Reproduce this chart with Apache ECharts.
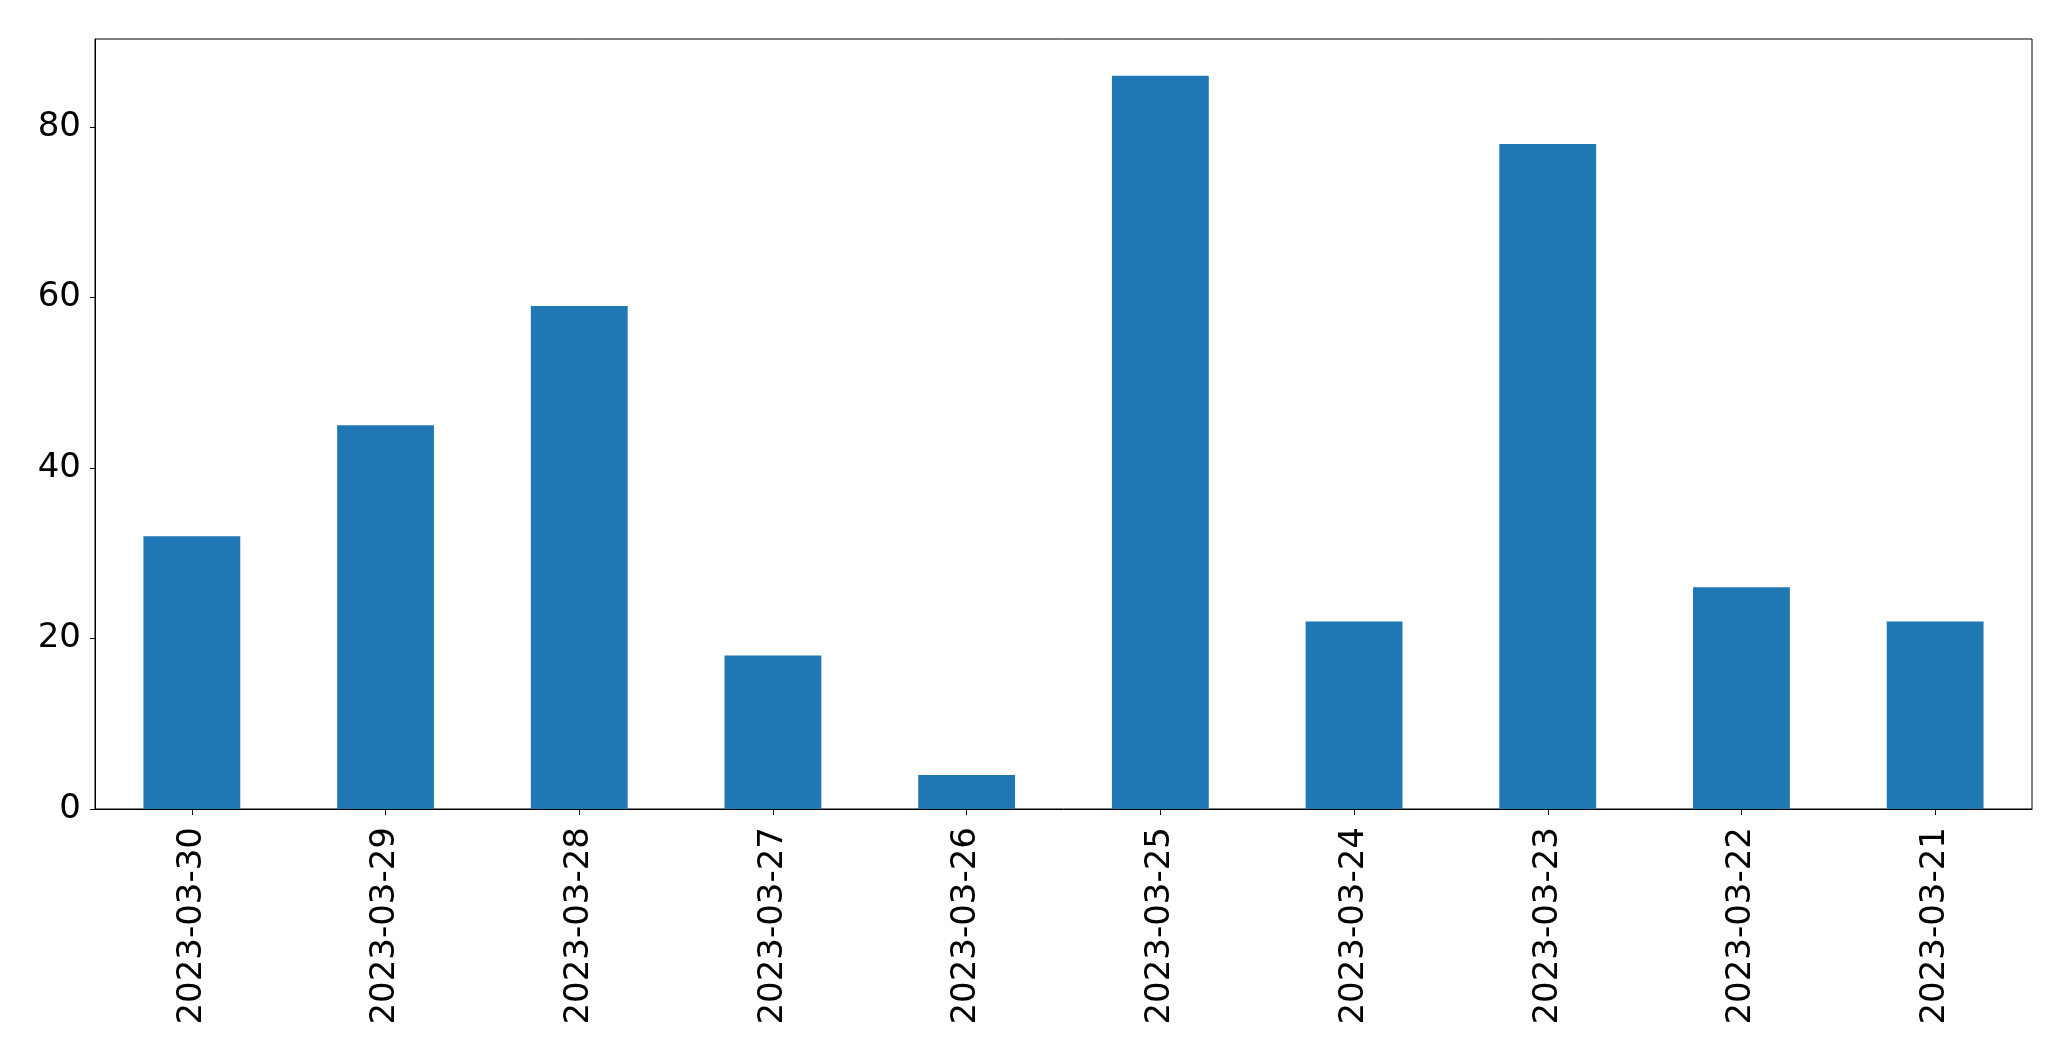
<!DOCTYPE html>
<html>
<head>
<meta charset="utf-8">
<script src="https://cdn.jsdelivr.net/npm/echarts@6/dist/echarts.min.js"></script>
<style>
html,body{margin:0;padding:0;background:#fff;}
#chart{width:2071px;height:1061px;}
</style>
</head>
<body>
<div id="chart"></div>
<script>
const categories = ["2023-03-30","2023-03-29","2023-03-28","2023-03-27","2023-03-26","2023-03-25","2023-03-24","2023-03-23","2023-03-22","2023-03-21"];
const values = [32, 45, 59, 18, 4, 86, 22, 78, 26, 22];
const yTicks = [0, 20, 40, 60, 80];

const chart = echarts.init(document.getElementById('chart'), null, {renderer: 'canvas'});
const font = 'DejaVu Sans';
chart.setOption({
  animation: false,
  backgroundColor: '#ffffff',
  grid: {
    left: 95, top: 39, right: 39, bottom: 252,
    show: true, borderColor: '#000000', borderWidth: 1, backgroundColor: 'transparent'
  },
  xAxis: {
    type: 'category',
    data: categories,
    boundaryGap: true,
    axisLine: {show: true, lineStyle: {color: '#000000', width: 1}},
    axisTick: {show: true, alignWithLabel: true, length: 6, lineStyle: {color: '#000000', width: 1}},
    axisLabel: {rotate: 90, margin: 18, fontSize: 34, fontFamily: font, color: '#000000', interval: 0},
    splitLine: {show: false}
  },
  yAxis: {
    type: 'value',
    min: 0, max: 90.3, interval: 20,
    axisLine: {show: true, lineStyle: {color: '#000000', width: 1}},
    axisTick: {show: true, length: 5, lineStyle: {color: '#000000', width: 1}},
    axisLabel: {
      margin: 14, fontSize: 34, fontFamily: font, color: '#000000',
      showMaxLabel: false,
      formatter: function (v) { return yTicks.indexOf(v) >= 0 ? String(v) : ''; }
    },
    splitLine: {show: false}
  },
  series: [{
    type: 'bar',
    data: values,
    barWidth: '50%',
    itemStyle: {color: '#1f77b4'}
  }]
});
</script>
</body>
</html>
